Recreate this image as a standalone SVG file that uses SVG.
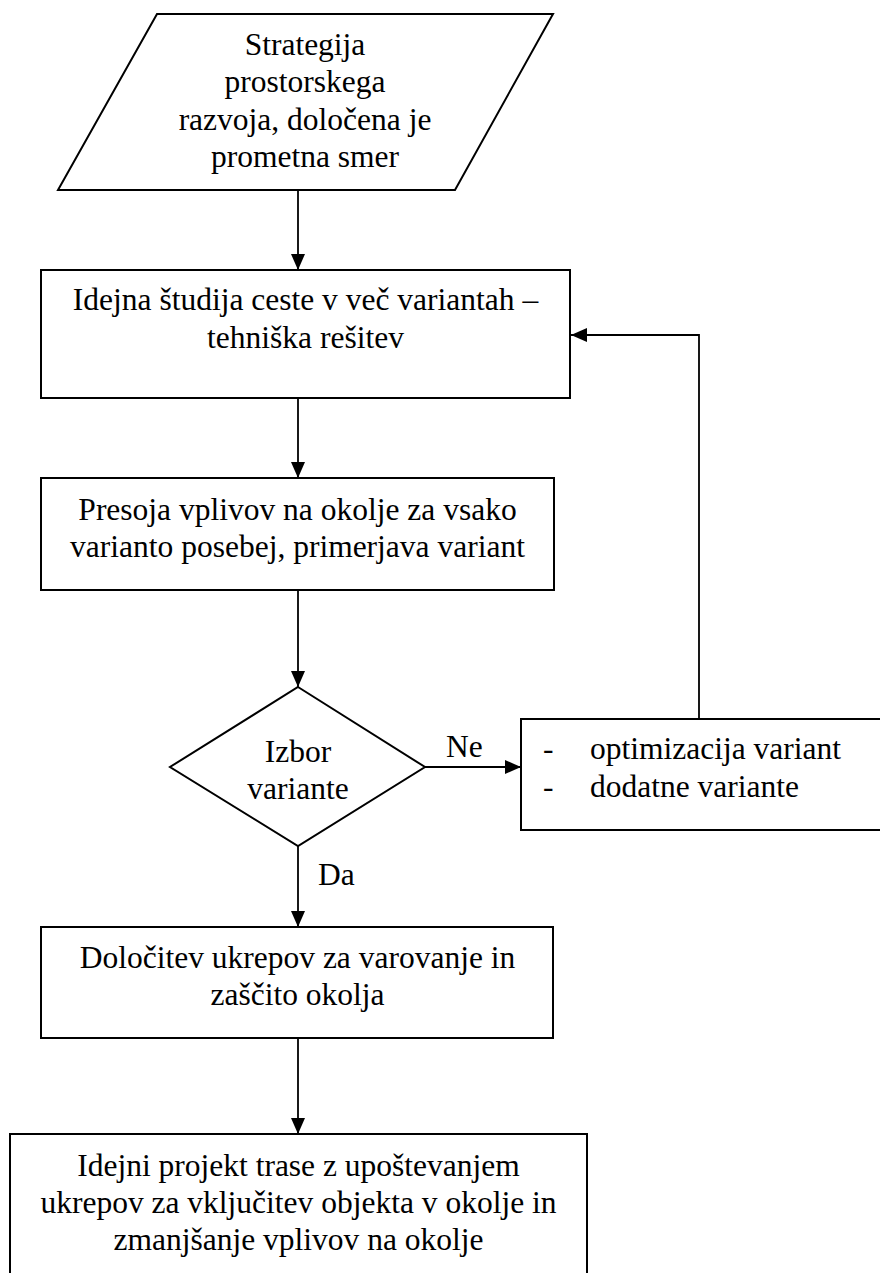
<svg xmlns="http://www.w3.org/2000/svg" width="880" height="1273" viewBox="0 0 880 1273">
  <style>
    .shape { fill: #ffffff; stroke: #000000; stroke-width: 2; }
    .line { fill: none; stroke: #000000; stroke-width: 1.8; }
    .t { font-family: "Liberation Serif", "Times New Roman", Times, Tinos, "Noto Serif", "DejaVu Serif", FreeSerif, "Nimbus Roman", serif; font-size: 31.5px; fill: #000000; }
    .c { text-anchor: middle; }
  </style>
  <defs>
    <marker id="arrow" viewBox="0 0 16 14" refX="16" refY="7" markerWidth="16" markerHeight="14" markerUnits="userSpaceOnUse" orient="auto">
      <path d="M0,0 L16,7 L0,14 Z" fill="#000000"/>
    </marker>
  </defs>
  <rect width="880" height="1273" fill="#ffffff"/>

  <!-- connectors -->
  <g id="connectors">
    <line class="line" x1="298" y1="190" x2="298" y2="270" marker-end="url(#arrow)"/>
    <line class="line" x1="298" y1="398" x2="298" y2="478" marker-end="url(#arrow)"/>
    <line class="line" x1="298" y1="590" x2="298" y2="687" marker-end="url(#arrow)"/>
    <line class="line" x1="425" y1="767" x2="521" y2="767" marker-end="url(#arrow)"/>
    <polyline class="line" points="699,719 699,335 571,335" marker-end="url(#arrow)"/>
    <line class="line" x1="298" y1="846" x2="298" y2="927" marker-end="url(#arrow)"/>
    <line class="line" x1="298" y1="1038" x2="298" y2="1134" marker-end="url(#arrow)"/>
    <text class="t" x="446" y="757">Ne</text>
    <text class="t" x="318" y="885">Da</text>
  </g>

  <!-- input: strategy -->
  <g id="strategija" class="t">
    <polygon class="shape" points="157,14 553,14 455,190 58,190"/>
    <text class="c" x="305" y="55">Strategija</text>
    <text class="c" x="305" y="92">prostorskega</text>
    <text class="c" x="305" y="130">razvoja, določena je</text>
    <text class="c" x="305" y="167">prometna smer</text>
  </g>

  <g id="idejna-studija" class="t">
    <rect class="shape" x="41" y="270" width="529" height="128"/>
    <text class="c" x="305.5" y="310">Idejna študija ceste v več variantah –</text>
    <text class="c" x="305.5" y="348">tehniška rešitev</text>
  </g>

  <g id="presoja" class="t">
    <rect class="shape" x="41" y="478" width="513" height="112"/>
    <text class="c" x="297.5" y="520">Presoja vplivov na okolje za vsako</text>
    <text class="c" x="297.5" y="557">varianto posebej, primerjava variant</text>
  </g>

  <g id="izbor" class="t">
    <polygon class="shape" points="298,687 425,767 298,846 170,767"/>
    <text class="c" x="298" y="762">Izbor</text>
    <text class="c" x="298" y="799">variante</text>
  </g>

  <g id="optimizacija" class="t">
    <rect class="shape" x="521" y="719" width="380" height="111"/>
    <text x="543" y="759">-</text>
    <text x="590" y="759">optimizacija variant</text>
    <text x="543" y="797">-</text>
    <text x="590" y="797">dodatne variante</text>
  </g>

  <g id="ukrepi" class="t">
    <rect class="shape" x="41" y="927" width="512" height="111"/>
    <text class="c" x="297.5" y="968">Določitev ukrepov za varovanje in</text>
    <text class="c" x="297.5" y="1005">zaščito okolja</text>
  </g>

  <g id="idejni-projekt" class="t">
    <rect class="shape" x="10" y="1134" width="577" height="170"/>
    <text class="c" x="298.5" y="1176">Idejni projekt trase z upoštevanjem</text>
    <text class="c" x="298.5" y="1213">ukrepov za vključitev objekta v okolje in</text>
    <text class="c" x="298.5" y="1250">zmanjšanje vplivov na okolje</text>
  </g>
</svg>
